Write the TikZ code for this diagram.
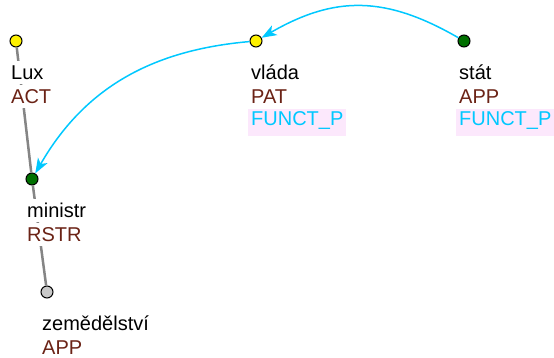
\documentclass[tikz,border=0pt]{standalone}
\usepackage{fontspec}
\setmainfont{Liberation Sans}
\usetikzlibrary{arrows.meta,positioning}
\definecolor{edgegray}{HTML}{858585}
\definecolor{functorbrown}{HTML}{6B2316}
\definecolor{corefcyan}{HTML}{00C8FF}
\definecolor{functpink}{HTML}{FCE8FC}
\definecolor{nodegreen}{HTML}{007000}
\definecolor{nodegray}{HTML}{C8C8C8}
\tikzset{
  tnode/.style={circle, draw=black, line width=1pt, minimum size=12pt, inner sep=0pt},
  lbl/.style={anchor=north west, inner xsep=1pt, inner ysep=0pt, fill=white,
    text height=18.5pt, text depth=5pt, font=\fontsize{20}{23.5}\selectfont},
  functor/.style={lbl, text=functorbrown},
  funct/.style={lbl, text=corefcyan, fill=functpink, inner xsep=3pt,
    text height=17pt, text depth=10pt},
  tedge/.style={draw=edgegray, line width=2.5pt},
  coref/.style={draw=corefcyan, line width=1.5pt,
    -{Stealth[length=15pt, width=11pt, inset=4pt]}},
}

\begin{document}
\begin{tikzpicture}[x=1pt, y=1pt]
    \useasboundingbox (0,0) rectangle (554,357);
    % tree nodes
    \node[tnode, fill=yellow] (lux) at (16,316) {};
    \node[tnode, fill=nodegreen] (ministr) at (32,178) {};
    \node[tnode, fill=nodegray] (zemed) at (47,65) {};
    \node[tnode, fill=yellow] (vlada) at (256,316) {};
    \node[tnode, fill=nodegreen] (stat) at (464,316) {};
    % edges
    \draw[tedge] (lux) -- (ministr);
    \draw[tedge] (ministr) -- (zemed);
    % labels
    \node[lbl] (luxw) at ([shift={(-6pt,-19.5pt)}]lux.center) {Lux};
    \node[functor, below right=0pt and 0pt of luxw.south west] (luxf) {ACT};
    \node[lbl] (ministrw) at ([shift={(-6pt,-19.5pt)}]ministr.center) {ministr};
    \node[functor, below right=0pt and 0pt of ministrw.south west] (ministrf) {RSTR};
    \node[lbl] (zemedw) at ([shift={(-6pt,-19.5pt)}]zemed.center) {zemědělství};
    \node[functor, below right=0pt and 0pt of zemedw.south west] (zemedf) {APP};
    \node[lbl] (vladaw) at ([shift={(-6pt,-19.5pt)}]vlada.center) {vláda};
    \node[functor, below right=0pt and 0pt of vladaw.south west] (vladaf) {PAT};
    \node[funct, below right=0pt and 0pt of vladaf.south west, xshift=-2pt] (vladap) {FUNCT\_P};
    \node[lbl] (statw) at ([shift={(-6pt,-19.5pt)}]stat.center) {stát};
    \node[functor, below right=0pt and 0pt of statw.south west] (statf) {APP};
    \node[funct, below right=0pt and 0pt of statf.south west, xshift=-2pt] (statp) {FUNCT\_P};
    % coreference arrows
    \draw[coref] (vlada) to[out=185, in=60] (ministr);
    \draw[coref] (stat) to[out=150, in=30, looseness=1.1] (vlada);
\end{tikzpicture}
\end{document}
